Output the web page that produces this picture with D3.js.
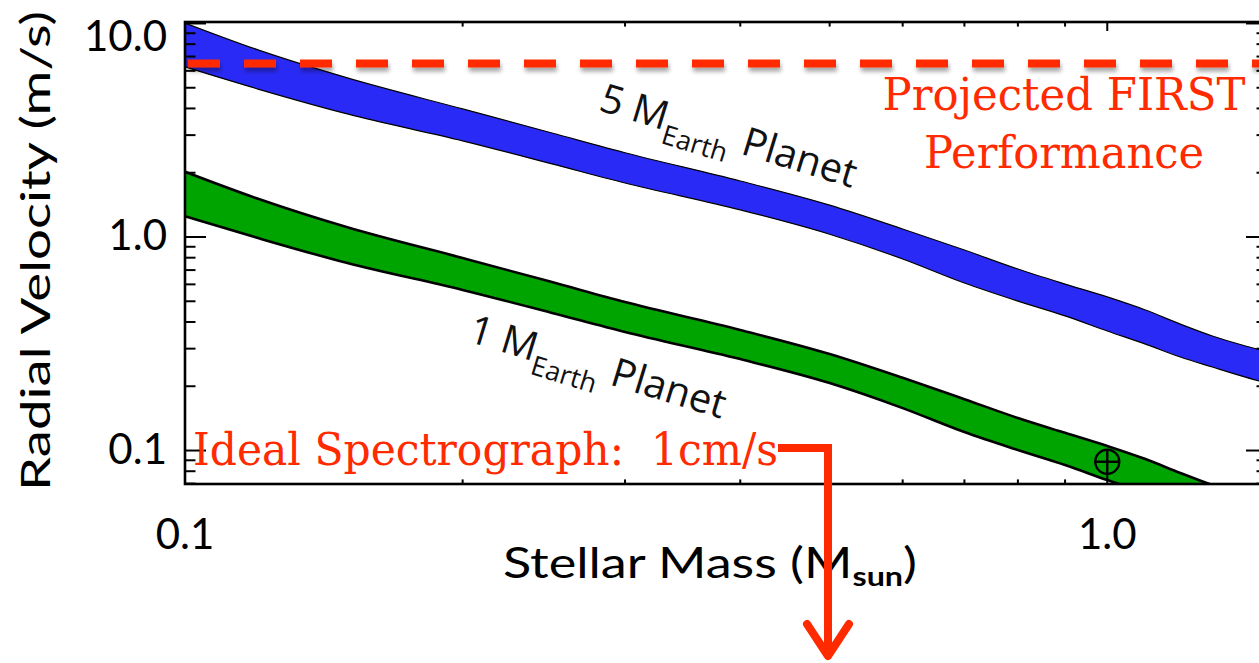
<!DOCTYPE html>
<html>
<head>
<meta charset="utf-8">
<script src="https://cdn.jsdelivr.net/npm/d3@7"></script>
<style>
  html, body { margin: 0; padding: 0; background: #fff; }
  svg { display: block; }
</style>
</head>
<body>
<svg id="chart" width="1259" height="663"></svg>
<script>
// Stellar mass grid (M_sun)
const stellarMass = [0.1, 0.12, 0.15, 0.2, 0.25, 0.3, 0.4, 0.5, 0.6, 0.7, 0.8, 0.9, 1.0, 1.1, 1.2, 1.3, 1.4, 1.5];

// RV semi-amplitude (m/s) for a planet in the habitable zone: inner edge (high) / outer edge (low)
const rv5EarthHigh = [10.05, 7.52, 5.56, 3.98, 3.07, 2.48, 1.83, 1.41, 1.09, 0.869, 0.708, 0.602, 0.524, 0.455, 0.391, 0.344, 0.312, 0.289];
const rv5EarthLow  = [6.26, 4.93, 3.77, 2.82, 2.20, 1.79, 1.34, 1.03, 0.789, 0.609, 0.501, 0.427, 0.363, 0.315, 0.274, 0.246, 0.223, 0.205];
const rv1EarthHigh = [2.02, 1.51, 1.11, 0.797, 0.615, 0.496, 0.367, 0.283, 0.219, 0.174, 0.142, 0.121, 0.105, 0.0912, 0.0785, 0.0689, 0.0625, 0.058];
const rv1EarthLow  = [1.25, 0.989, 0.755, 0.565, 0.441, 0.359, 0.268, 0.207, 0.158, 0.122, 0.1005, 0.0855, 0.0727, 0.0632, 0.055, 0.0493, 0.0448, 0.0411];

// Earth around the Sun: [mass (M_sun), RV (m/s)]
const earthSun = [1.0, 0.0886];

// Projected FIRST precision (m/s)
const firstPerformance = 6.5;

// Axis ticks
const xMajorTicks = [0.1, 1.0];
const xMinorTicks = [0.2, 0.3, 0.4, 0.5, 0.6, 0.7, 0.8, 0.9];
const xTickLabels = ["0.1", "1.0"];
const yMajorTicks = [0.1, 1.0, 10.0];
const yMinorTicks = [0.07, 0.08, 0.09, 0.2, 0.3, 0.4, 0.5, 0.6, 0.7, 0.8, 0.9, 2, 3, 4, 5, 6, 7, 8, 9];
const yTickLabels = ["0.1", "1.0", "10.0"];

// Band label anchors: [mass, rv]
const label5Anchor = [0.28, 3.93];
const label1Anchor = [0.202, 0.326];

const RED = "#ff2a00";
const SANS = "Lato, 'Open Sans', sans-serif";
const SERIF = "'DejaVu Serif', serif";

const plot = { left: 185, top: 22, right: 1267, bottom: 484 };

const x = d3.scaleLog().domain([0.1, 1.49]).range([plot.left, plot.right]);
const y = d3.scaleLog().domain([0.0697, 10.16]).range([plot.bottom, plot.top]);

const svg = d3.select("#chart");
const defs = svg.append("defs");
defs.append("clipPath").attr("id", "plot-clip")
  .append("rect")
  .attr("x", plot.left).attr("y", plot.top)
  .attr("width", plot.right - plot.left).attr("height", plot.bottom - plot.top);
const shadow = defs.append("filter").attr("id", "shadow")
  .attr("filterUnits", "userSpaceOnUse")
  .attr("x", 0).attr("y", 0).attr("width", 1300).attr("height", 700);
shadow.append("feDropShadow")
  .attr("dx", 1).attr("dy", 4).attr("stdDeviation", 2)
  .attr("flood-color", "#000").attr("flood-opacity", 0.35);

// Bands
const bands = [
  { hi: rv5EarthHigh, lo: rv5EarthLow, fill: "#2a2af6", edge: 1.2 },
  { hi: rv1EarthHigh, lo: rv1EarthLow, fill: "#00a400", edge: 2.6 }
];

const plotArea = svg.append("g").attr("clip-path", "url(#plot-clip)");

bands.forEach(b => {
  const rows = stellarMass.map((m, i) => ({ m, hi: b.hi[i], lo: b.lo[i] }));
  const area = d3.area()
    .x(d => x(d.m)).y0(d => y(d.lo)).y1(d => y(d.hi))
    .curve(d3.curveMonotoneX);
  plotArea.append("path").datum(rows).attr("d", area).attr("fill", b.fill);
  ["hi", "lo"].forEach(k => {
    const line = d3.line().x(d => x(d.m)).y(d => y(d[k])).curve(d3.curveMonotoneX);
    plotArea.append("path").datum(rows).attr("d", line)
      .attr("fill", "none").attr("stroke", "#000").attr("stroke-width", b.edge);
  });
});

// Earth-Sun marker
const sun = plotArea.append("g")
  .attr("transform", `translate(${x(earthSun[0])},${y(earthSun[1])})`)
  .attr("fill", "none").attr("stroke", "#000").attr("stroke-width", 2.4);
sun.append("circle").attr("r", 12);
sun.append("line").attr("x1", -12).attr("x2", 12);
sun.append("line").attr("y1", -12).attr("y2", 12);

// Inward ticks on all four sides
const tickLayer = svg.append("g").attr("stroke", "#000").attr("stroke-width", 2);
function yTicks(values, len) {
  tickLayer.selectAll(null).data(values).join("line")
    .attr("x1", plot.left).attr("x2", plot.left + len)
    .attr("y1", d => y(d)).attr("y2", d => y(d));
  tickLayer.selectAll(null).data(values).join("line")
    .attr("x1", plot.right).attr("x2", plot.right - len)
    .attr("y1", d => y(d)).attr("y2", d => y(d));
}
function xTicks(values, len) {
  tickLayer.selectAll(null).data(values).join("line")
    .attr("x1", d => x(d)).attr("x2", d => x(d))
    .attr("y1", plot.bottom).attr("y2", plot.bottom - len);
  tickLayer.selectAll(null).data(values).join("line")
    .attr("x1", d => x(d)).attr("x2", d => x(d))
    .attr("y1", plot.top).attr("y2", plot.top + len);
}
yTicks(yMajorTicks, 21);
yTicks(yMinorTicks, 10.5);
xTicks(xMajorTicks, 9);
xTicks(xMinorTicks, 4.6);

// Tick labels
svg.append("g").selectAll("text").data(yMajorTicks).join("text")
  .attr("x", plot.left - 18)
  .attr("y", d => Math.max(y(d), plot.top + 16))
  .attr("dy", "0.32em").attr("text-anchor", "end")
  .attr("font-family", SANS).attr("font-size", 42).attr("fill", "#000")
  .text((d, i) => yTickLabels[i]);
svg.append("g").selectAll("text").data(xMajorTicks).join("text")
  .attr("x", d => x(d)).attr("y", plot.bottom + 65)
  .attr("text-anchor", "middle")
  .attr("font-family", SANS).attr("font-size", 42).attr("fill", "#000")
  .text((d, i) => xTickLabels[i]);

// Frame
svg.append("rect")
  .attr("x", plot.left).attr("y", plot.top)
  .attr("width", plot.right - plot.left).attr("height", plot.bottom - plot.top)
  .attr("fill", "none").attr("stroke", "#000").attr("stroke-width", 2.6);

// Axis titles
const xTitle = svg.append("text")
  .attr("x", 503).attr("y", 578)
  .attr("font-family", SANS).attr("font-size", 42).attr("fill", "#000")
  .attr("textLength", 414).attr("lengthAdjust", "spacingAndGlyphs");
xTitle.append("tspan").text("Stellar Mass (M");
xTitle.append("tspan").attr("font-size", 26).attr("font-weight", "bold").attr("dy", 8).text("sun");
xTitle.append("tspan").attr("dy", -8).text(")");

svg.append("text")
  .attr("transform", "translate(50,251) rotate(-90)")
  .attr("text-anchor", "middle")
  .attr("font-family", SANS).attr("font-size", 40).attr("fill", "#000")
  .attr("textLength", 480).attr("lengthAdjust", "spacingAndGlyphs")
  .text("Radial Velocity (m/s)");

// Band labels
function bandLabel(anchor, lead) {
  const t = svg.append("text")
    .attr("transform", `translate(${x(anchor[0])},${y(anchor[1])}) rotate(17)`)
    .attr("font-family", "'Open Sans', sans-serif").attr("font-size", 40).attr("fill", "#111");
  t.append("tspan").text(lead + " M");
  t.append("tspan").attr("font-size", 27).attr("dy", 13).text("Earth");
  t.append("tspan").attr("dy", -13).attr("dx", 12).text("Planet");
}
bandLabel(label5Anchor, "5");
bandLabel(label1Anchor, "1");

// Projected FIRST performance level
svg.append("line")
  .attr("x1", plot.left + 3).attr("x2", plot.right)
  .attr("y1", y(firstPerformance)).attr("y2", y(firstPerformance))
  .attr("stroke", RED).attr("stroke-width", 8).attr("stroke-dasharray", "32 24")
  .attr("filter", "url(#shadow)");

svg.append("text")
  .attr("x", 1064).attr("y", 110).attr("text-anchor", "middle")
  .attr("font-family", SERIF).attr("font-size", 44).attr("fill", RED)
  .attr("textLength", 363).attr("lengthAdjust", "spacingAndGlyphs")
  .text("Projected FIRST");
svg.append("text")
  .attr("x", 1064).attr("y", 168).attr("text-anchor", "middle")
  .attr("font-family", SERIF).attr("font-size", 44).attr("fill", RED)
  .attr("textLength", 280).attr("lengthAdjust", "spacingAndGlyphs")
  .text("Performance");

// Ideal spectrograph note, with arrow pointing below the plotted range
svg.append("text")
  .attr("x", 193).attr("y", 465)
  .attr("font-family", SERIF).attr("font-size", 44).attr("fill", RED)
  .style("white-space", "pre")
  .attr("textLength", 585).attr("lengthAdjust", "spacingAndGlyphs")
  .text("Ideal Spectrograph:  1cm/s");

svg.append("path")
  .attr("d", "M778,448 H828 V654")
  .attr("fill", "none").attr("stroke", RED).attr("stroke-width", 8)
  .attr("stroke-linejoin", "miter");
svg.append("path")
  .attr("d", "M807,624 L828,656 L849,624")
  .attr("fill", "none").attr("stroke", RED).attr("stroke-width", 8)
  .attr("stroke-linecap", "round").attr("stroke-linejoin", "round");
</script>
</body>
</html>
